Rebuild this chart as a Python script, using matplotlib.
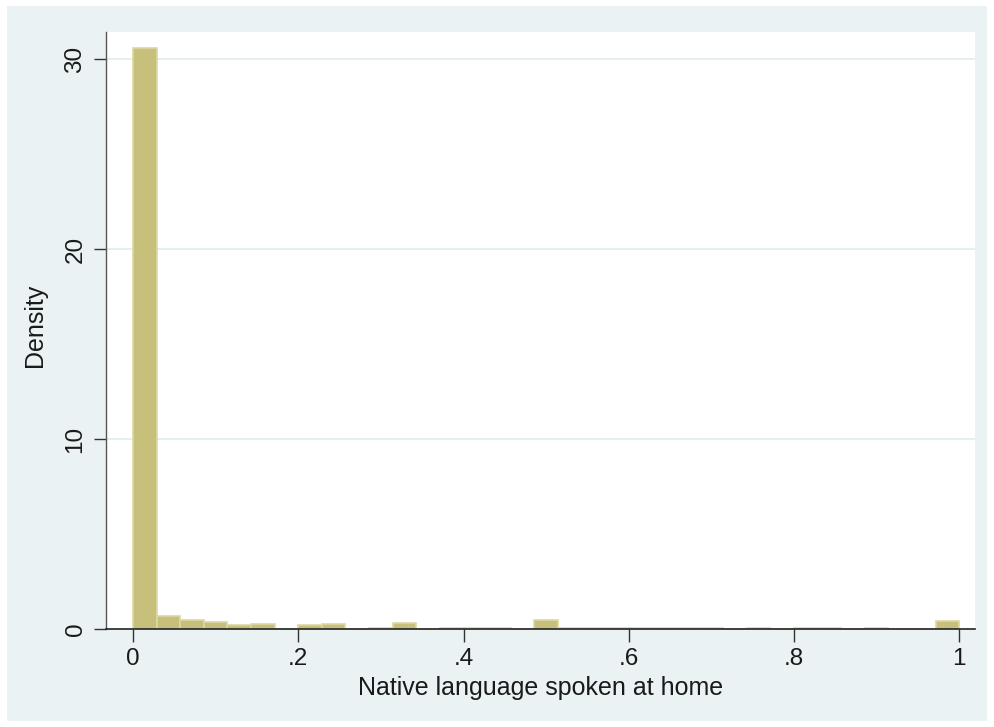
import numpy as np
import matplotlib
matplotlib.use("Agg")
import matplotlib.pyplot as plt
from matplotlib.patches import Rectangle

# Data: histogram densities, 35 equal bins on [0, 1]
bin_lo = 0.0
bin_hi = 1.0
n_bins = 35
density = [30.6, 0.70, 0.47, 0.35, 0.23, 0.28, 0.0, 0.21, 0.26, 0.0,
           0.05, 0.30, 0.02, 0.04, 0.05, 0.05, 0.0, 0.46, 0.03, 0.03,
           0.03, 0.03, 0.03, 0.03, 0.03, 0.0, 0.03, 0.0, 0.03, 0.03,
           0.0, 0.03, 0.0, 0.0, 0.40]
x_ticks = [0, 0.2, 0.4, 0.6, 0.8, 1.0]
x_ticklabels = ["0", ".2", ".4", ".6", ".8", "1"]
y_ticks = [0, 10, 20, 30]
y_ticklabels = ["0", "10", "20", "30"]
x_title = "Native language spoken at home"
y_title = "Density"

plt.rcParams['font.family'] = ['Liberation Sans', 'DejaVu Sans']

W, H = 994, 727
fig = plt.figure(figsize=(W / 100, H / 100), dpi=100, facecolor='white')
bg = Rectangle((7 / W, 6 / H), (987 - 7) / W, (721 - 6) / H,
               transform=fig.transFigure, facecolor='#eaf2f3',
               edgecolor='none', zorder=-10)
fig.add_artist(bg)

ax_l, ax_r, ax_t, ax_b = 106, 975, 32, 629
ax = fig.add_axes([ax_l / W, 1 - ax_b / H, (ax_r - ax_l) / W, (ax_b - ax_t) / H])
ax.set_zorder(5)
ax.set_facecolor('white')

edges = np.linspace(bin_lo, bin_hi, n_bins + 1)
widths = np.diff(edges)
ax.bar(edges[:-1], density, width=widths, align='edge',
       color='#c7c07a', edgecolor='#dcd8a4', linewidth=1.2, zorder=3)

ax.set_xlim(-0.0327, 1.019)
ax.set_ylim(0, 31.42)

ax.set_yticks(y_ticks)
ax.set_yticklabels(y_ticklabels, rotation=90, va='center', fontsize=17.5)
ax.set_xticks(x_ticks)
ax.set_xticklabels(x_ticklabels, fontsize=17.5)

for y in y_ticks[1:]:
    ax.axhline(y, color='#e3edef', linewidth=1.3, zorder=1)

for s in ['top', 'right']:
    ax.spines[s].set_visible(False)
ax.spines['left'].set_color('#555555')
ax.spines['bottom'].set_color('#222222')
ax.spines['left'].set_linewidth(1.0)
ax.spines['bottom'].set_linewidth(1.2)
ax.spines['bottom'].set_zorder(4)

ax.tick_params(axis='both', direction='out', length=9, width=1.0,
               color='#333333', labelcolor='#1a1a1a')
ax.tick_params(axis='x', pad=5)
ax.tick_params(axis='y', pad=5)

ax.set_xlabel(x_title, fontsize=18, color='#1a1a1a', va='center')
ax.xaxis.set_label_coords(0.5, (ax_b - 688) / (ax_b - ax_t))
ax.set_ylabel(y_title, fontsize=18, color='#1a1a1a', va='center')
ax.yaxis.set_label_coords((35 - ax_l) / (ax_r - ax_l),
                          (ax_b - 325) / (ax_b - ax_t))

fig.savefig('out.png', dpi=100, facecolor='white')
